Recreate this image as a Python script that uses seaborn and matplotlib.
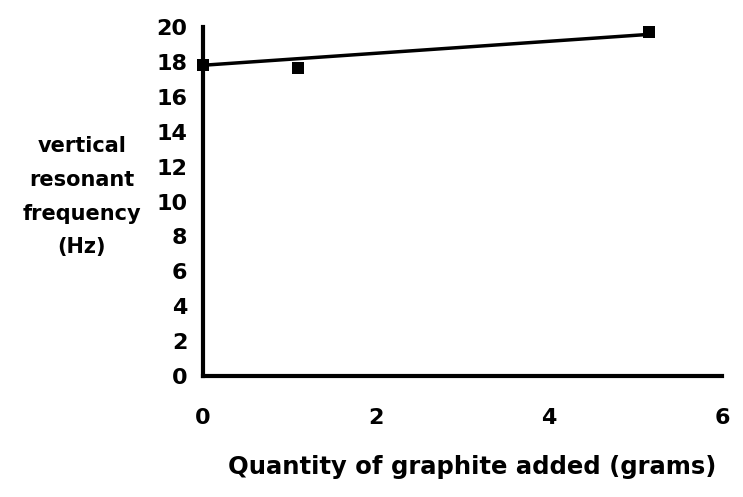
import matplotlib
matplotlib.use("Agg")
import matplotlib.pyplot as plt
import seaborn as sns
import pandas as pd

# data
graphite_g = [0.0, 1.1, 5.15]
frequency_hz = [17.8, 17.65, 19.7]
trend_x = [0.0, 5.1]
trend_y = [17.8, 19.55]
x_ticks = [0, 2, 4, 6]
y_ticks = [0, 2, 4, 6, 8, 10, 12, 14, 16, 18, 20]

sns.set_style("white")
plt.rcParams["font.family"] = ["DejaVu Sans"]
plt.rcParams["font.weight"] = "bold"
plt.rcParams["text.color"] = "black"
plt.rcParams["xtick.color"] = "black"
plt.rcParams["ytick.color"] = "black"

df = pd.DataFrame({"x": graphite_g, "y": frequency_hz})
tr = pd.DataFrame({"x": trend_x, "y": trend_y})

fig = plt.figure(figsize=(7.43, 4.97), dpi=100)
ax = fig.add_axes([0.273, 0.243, 0.699, 0.703])

sns.lineplot(data=tr, x="x", y="y", ax=ax, color="black", linewidth=2.5)
sns.scatterplot(data=df, x="x", y="y", ax=ax, marker="s", s=80, color="black",
                edgecolor="black", linewidth=0)

ax.set_xlim(0, 6)
ax.set_ylim(0, 20)
ax.set_xticks(x_ticks)
ax.set_yticks(y_ticks)
ax.set_xticklabels([str(v) for v in x_ticks], fontsize=16, fontweight="bold", color="black")
ax.set_yticklabels([str(v) for v in y_ticks], fontsize=16, fontweight="bold", color="black")
ax.tick_params(axis="both", direction="inout", length=10, width=2.5, color="black")
ax.tick_params(axis="x", pad=18)
ax.tick_params(axis="y", pad=6)
for side in ["top", "right"]:
    ax.spines[side].set_visible(False)
for side in ["left", "bottom"]:
    ax.spines[side].set_linewidth(3)
    ax.spines[side].set_color("black")
ax.set_xlabel("")
ax.set_ylabel("")

fig.text(0.635, 0.06, "Quantity of graphite added (grams)", ha="center", va="center",
         fontsize=17.5, fontweight="bold", color="black")
fig.text(0.11, 0.604, "vertical\nresonant\nfrequency\n(Hz)", ha="center", va="center",
         fontsize=15, fontweight="bold", linespacing=1.85, color="black")

for sp in ax.spines.values():
    sp.set_clip_on(False)
for ln in ax.lines:
    ln.set_clip_on(False)
for c in ax.collections:
    c.set_clip_on(False)

fig.savefig("out.png", dpi=100)
